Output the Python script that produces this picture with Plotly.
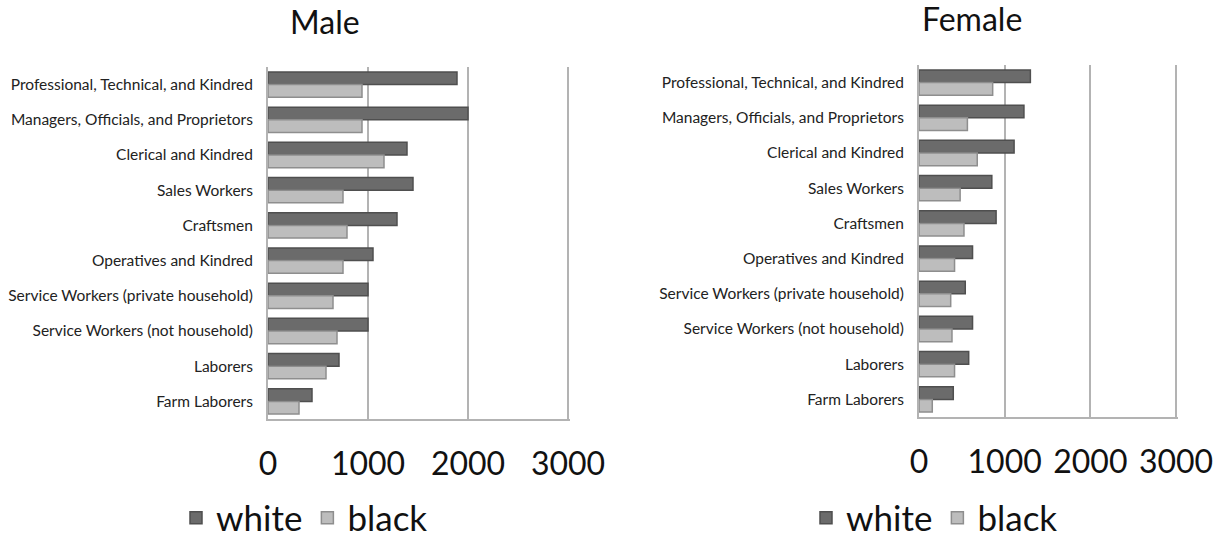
import plotly.graph_objects as go

categories = [
    "Professional, Technical, and Kindred",
    "Managers, Officials, and Proprietors",
    "Clerical and Kindred",
    "Sales Workers",
    "Craftsmen",
    "Operatives and Kindred",
    "Service Workers (private household)",
    "Service Workers (not household)",
    "Laborers",
    "Farm Laborers",
]
male_white = [1890, 2000, 1390, 1450, 1290, 1050, 1000, 1000, 710, 440]
male_black = [940, 940, 1160, 750, 790, 750, 650, 690, 580, 310]
female_white = [1300, 1225, 1110, 850, 900, 625, 540, 625, 580, 400]
female_black = [860, 565, 680, 480, 525, 415, 370, 385, 415, 155]
x_ticks = [0, 1000, 2000, 3000]

FONT = "Lato"
DARK = "#6b6b6b"
DARK_LINE = "#4f4f4f"
LIGHT = "#bdbdbd"
LIGHT_LINE = "#8e8e8e"
GRID = "#b3b3b3"

fig = go.Figure()

def add_pair(white, black, xa, ya, leg):
    fig.add_trace(go.Bar(
        y=categories, x=white, orientation="h", name="white",
        marker=dict(color=DARK, line=dict(color=DARK_LINE, width=1.5)),
        xaxis=xa, yaxis=ya, legend=leg, offsetgroup="w",
    ))
    fig.add_trace(go.Bar(
        y=categories, x=black, orientation="h", name="black",
        marker=dict(color=LIGHT, line=dict(color=LIGHT_LINE, width=1.5)),
        xaxis=xa, yaxis=ya, legend=leg, offsetgroup="b",
    ))

add_pair(male_white, male_black, "x", "y", "legend")
add_pair(female_white, female_black, "x2", "y2", "legend2")

W, H = 1225, 539
XMAX = 3022

def xdom(a, b3000):
    # b3000 is the pixel where 3000 should land; extend domain to XMAX
    end = a + (b3000 - a) * XMAX / 3000
    return [a / W, end / W]

def ydom(top, bottom):
    return [(H - bottom) / H, (H - top) / H]

xaxis_common = dict(
    range=[0, XMAX], tickvals=x_ticks, ticktext=[str(t) for t in x_ticks],
    showgrid=True, gridcolor=GRID, gridwidth=2,
    zeroline=False, showline=True, linecolor=GRID, linewidth=2,
    ticks="outside", ticklen=16, tickcolor="rgba(0,0,0,0)",
    tickfont=dict(family=FONT, size=32, color="#111111"),
    fixedrange=True, automargin=False,
)
yaxis_common = dict(
    autorange="reversed", type="category",
    showgrid=False, zeroline=False, showline=True, linecolor=GRID, linewidth=2,
    ticks="outside", ticklen=10, tickcolor="rgba(0,0,0,0)",
    tickfont=dict(family=FONT, size=15.5, color="#222222"),
    automargin=False,
)

fig.update_layout(
    width=W, height=H,
    margin=dict(l=0, r=0, t=0, b=0, autoexpand=False),
    paper_bgcolor="white", plot_bgcolor="white",
    barmode="group", bargap=0.28, bargroupgap=0,
    font=dict(family=FONT, color="#111111"),
    xaxis=dict(domain=xdom(268, 568), anchor="y", **xaxis_common),
    yaxis=dict(domain=ydom(67, 419), anchor="x", **yaxis_common),
    xaxis2=dict(domain=xdom(919, 1176), anchor="y2", **xaxis_common),
    yaxis2=dict(domain=ydom(65, 417), anchor="x2", **yaxis_common),
    legend=dict(
        orientation="h", x=176 / W, y=(H - 518) / H, xanchor="left", yanchor="middle",
        font=dict(family=FONT, size=35, color="#111111"),
        bgcolor="rgba(0,0,0,0)", itemwidth=30, traceorder="normal",
    ),
    legend2=dict(
        orientation="h", x=806 / W, y=(H - 518) / H, xanchor="left", yanchor="middle",
        font=dict(family=FONT, size=35, color="#111111"),
        bgcolor="rgba(0,0,0,0)", itemwidth=30, traceorder="normal",
    ),
    annotations=[
        dict(text="Male", x=325 / W, y=(H - 21) / H, xref="paper", yref="paper",
             showarrow=False, xanchor="center", yanchor="middle",
             font=dict(family=FONT, size=32, color="#111111")),
        dict(text="Female", x=972 / W, y=(H - 18) / H, xref="paper", yref="paper",
             showarrow=False, xanchor="center", yanchor="middle",
             font=dict(family=FONT, size=32, color="#111111")),
    ],
)

fig.write_html("out.html")
